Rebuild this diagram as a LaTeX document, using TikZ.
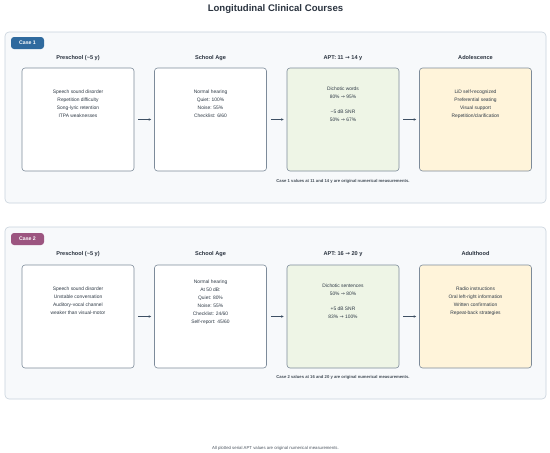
\documentclass[tikz,border=0pt]{standalone}
\usepackage{fontspec}
\setmainfont{Liberation Sans}
\newfontfamily\symf{DejaVu Sans}
\usetikzlibrary{arrows.meta}
\definecolor{titlec}{HTML}{2B3440}
\definecolor{panelfill}{HTML}{F7F9FB}
\definecolor{panelborder}{HTML}{C9D3DD}
\definecolor{boxborder}{HTML}{7D8B9A}
\definecolor{textc}{HTML}{2F3A46}
\definecolor{tagone}{HTML}{2F6A9E}
\definecolor{tagtwo}{HTML}{9C5580}
\definecolor{aptfill}{HTML}{EEF5E6}
\definecolor{adfill}{HTML}{FFF4DA}
\definecolor{arrowc}{HTML}{3E5064}
\newcommand{\ar}{{\symf →}}
\begin{document}
\begin{tikzpicture}[x=1pt,y=-1pt,
  panel/.style={draw=panelborder, fill=panelfill, rounded corners=4pt, line width=0.6pt},
  tagbox/.style={fill=#1, rounded corners=3pt, text=white, minimum width=33pt, minimum height=12pt, inner sep=0pt, text height=3.8pt, text depth=0pt, font=\bfseries\fontsize{5.2}{6}\selectfont},
  stagebox/.style={draw=boxborder, fill=#1, rounded corners=3pt, line width=0.6pt, minimum width=112pt, minimum height=103pt, inner sep=0pt},
  stagebox/.default=white,
  hdr/.style={font=\bfseries\fontsize{5.6}{6}\selectfont, text=titlec, inner sep=0pt, text height=4.1pt, text depth=1.2pt},
  body/.style={font=\fontsize{4.9}{8}\selectfont, text=textc, align=center, inner sep=0pt},
  capt/.style={font=\bfseries\fontsize{4.2}{5}\selectfont, text=textc!90, inner sep=0pt, text height=3pt, text depth=0.9pt},
  flow/.style={-{Stealth[length=2.6pt,width=2.4pt]}, draw=arrowc, line width=0.6pt, shorten <=4pt, shorten >=3pt}
]
\useasboundingbox[fill=white] (0,0) rectangle (550,453);

\node[font=\bfseries\fontsize{9.6}{11}\selectfont, text=titlec, inner sep=0pt, text height=7pt, text depth=2pt] (title) at (275.5,8.5) {Longitudinal Clinical Courses};

% ---------- Case 1 ----------
\path[panel] (5,32) rectangle (546,203);
\node[tagbox=tagone] (tag1) at (27.5,43) {Case 1};

\node[hdr] (h11) at (78,58) {Preschool (\textasciitilde5 y)};
\node[hdr] (h12) at (210.5,58) {School Age};
\node[hdr] (h13) at (343,58) {APT: 11 \ar\ 14 y};
\node[hdr] (h14) at (475.5,58) {Adolescence};

\node[stagebox] (b11) at (78,119.5) {};
\node[stagebox] (b12) at (210.5,119.5) {};
\node[stagebox=aptfill] (b13) at (343,119.5) {};
\node[stagebox=adfill] (b14) at (475.5,119.5) {};

\node[body] (t11) at (78,104) {Speech sound disorder\\Repetition difficulty\\Song-lyric retention\\ITPA weaknesses};
\node[body] (t12) at (210.5,104) {Normal hearing\\Quiet: 100\%\\Noise: 55\%\\Checklist: 6/60};
\node[body] (t13) at (343,104.5) {Dichotic words\\80\% \ar\ 95\%\\[7pt]\textminus5 dB SNR\\50\% \ar\ 67\%};
\node[body] (t14) at (475.5,104) {LiD self-recognized\\Preferential seating\\Visual support\\Repetition/clarification};

\draw[flow] (b11.east) -- (b12.west);
\draw[flow] (b12.east) -- (b13.west);
\draw[flow] (b13.east) -- (b14.west);

\node[capt] (c1) at (343,181) {Case 1 values at 11 and 14 y are original numerical measurements.};

% ---------- Case 2 ----------
\path[panel] (5,227) rectangle (546,399);
\node[tagbox=tagtwo] (tag2) at (27.5,239) {Case 2};

\node[hdr] (h21) at (78,254) {Preschool (\textasciitilde5 y)};
\node[hdr] (h22) at (210.5,254) {School Age};
\node[hdr] (h23) at (343,254) {APT: 16 \ar\ 20 y};
\node[hdr] (h24) at (475.5,254) {Adulthood};

\node[stagebox] (b21) at (78,316.5) {};
\node[stagebox] (b22) at (210.5,316.5) {};
\node[stagebox=aptfill] (b23) at (343,316.5) {};
\node[stagebox=adfill] (b24) at (475.5,316.5) {};

\node[body] (t21) at (78,301) {Speech sound disorder\\Unstable conversation\\Auditory-vocal channel\\weaker than visual-motor};
\node[body] (t22) at (210.5,302) {Normal hearing\\At 50 dB:\\Quiet: 80\%\\Noise: 55\%\\Checklist: 24/60\\Self-report: 45/60};
\node[body] (t23) at (343,301.5) {Dichotic sentences\\50\% \ar\ 80\%\\[7pt]+5 dB SNR\\83\% \ar\ 100\%};
\node[body] (t24) at (475.5,301) {Radio instructions\\Oral left-right information\\Written confirmation\\Repeat-back strategies};

\draw[flow] (b21.east) -- (b22.west);
\draw[flow] (b22.east) -- (b23.west);
\draw[flow] (b23.east) -- (b24.west);

\node[capt] (c2) at (343,377) {Case 2 values at 16 and 20 y are original numerical measurements.};

\node[font=\fontsize{4.3}{5}\selectfont, text=textc!85, inner sep=0pt, text height=3pt, text depth=0.9pt] (foot) at (275.5,448) {All plotted serial APT values are original numerical measurements.};
\end{tikzpicture}
\end{document}
